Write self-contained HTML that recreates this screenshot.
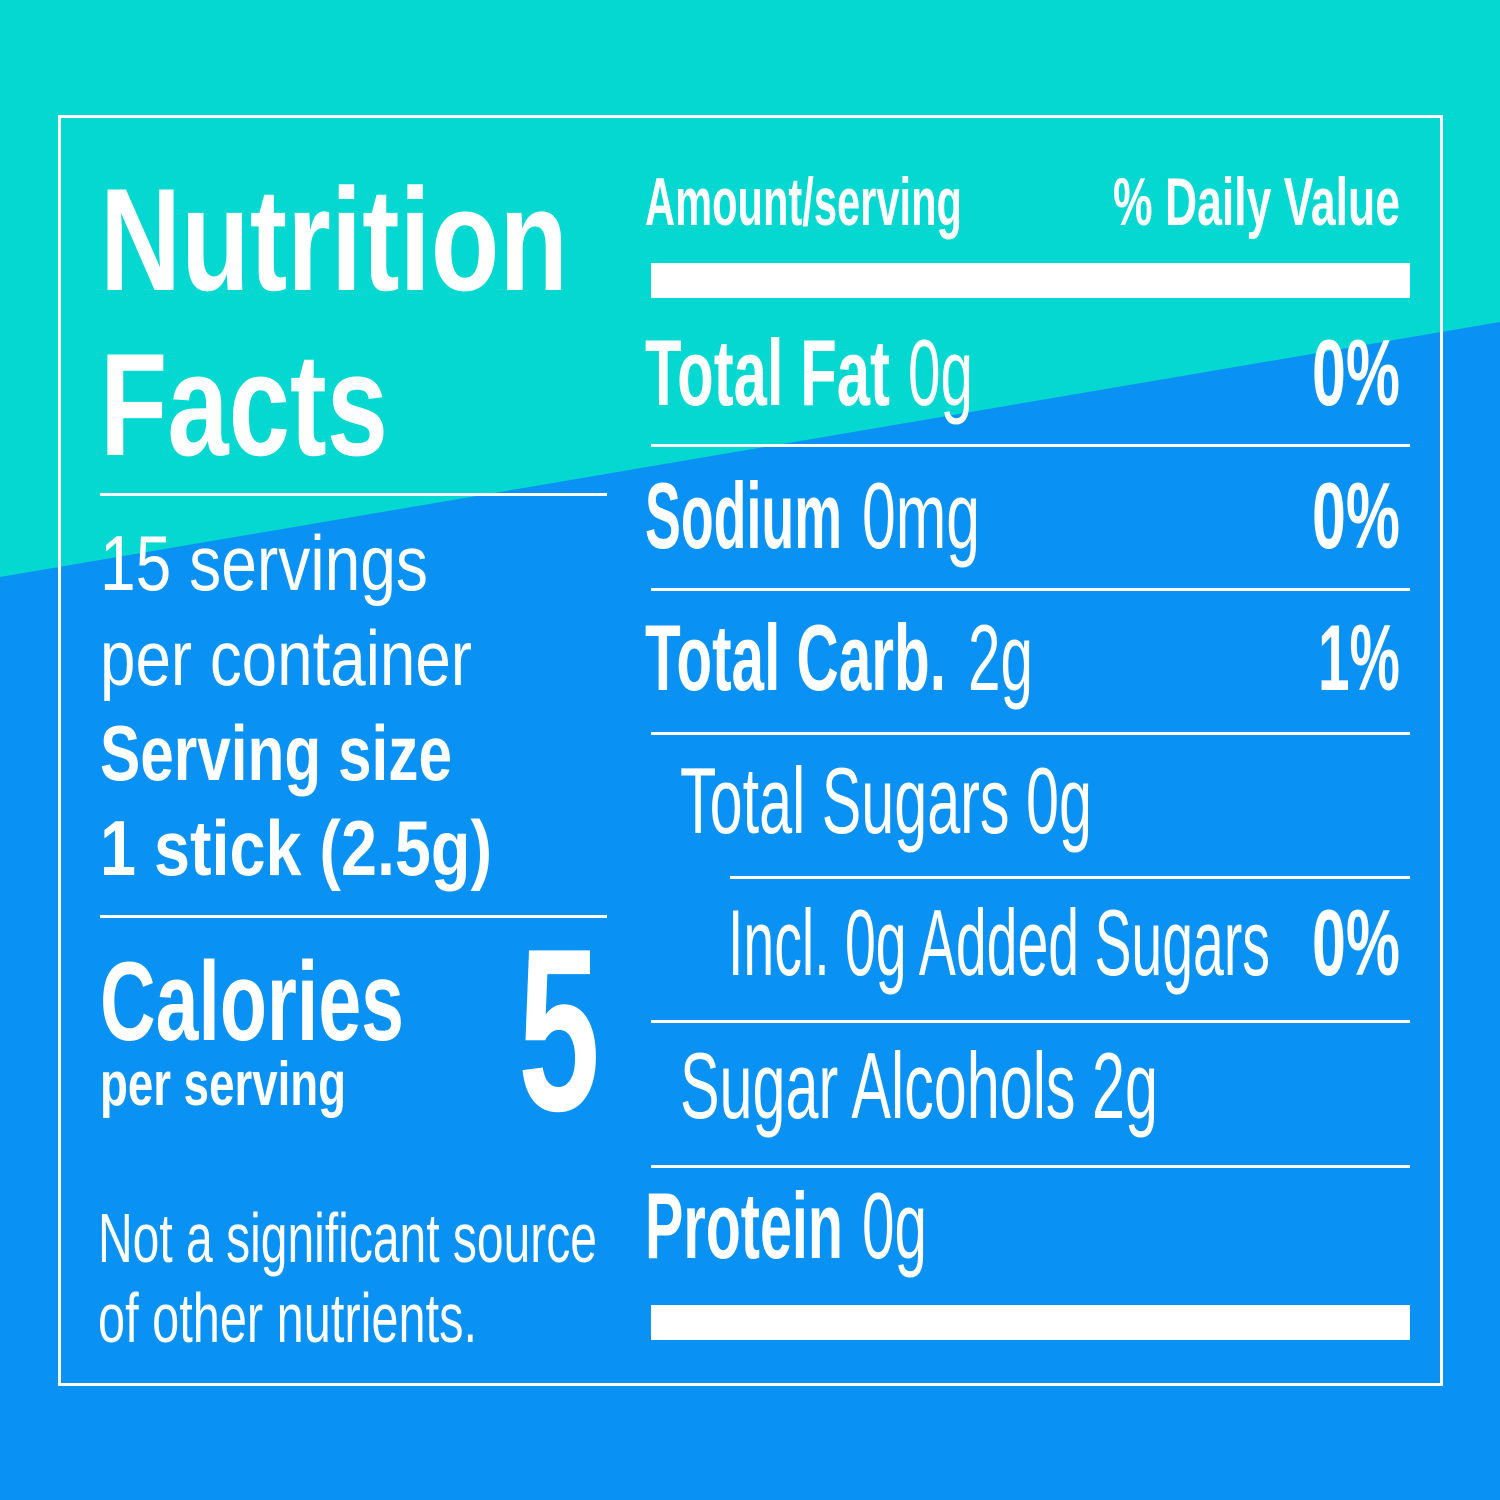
<!DOCTYPE html>
<html><head><meta charset="utf-8"><style>
html,body{margin:0;padding:0;width:1500px;height:1500px;overflow:hidden}
svg{display:block}
text{fill:#fff;font-family:"Liberation Sans",sans-serif}
.b{font-weight:bold}
</style></head><body>
<svg width="1500" height="1500" viewBox="0 0 1500 1500" xmlns="http://www.w3.org/2000/svg">
<rect width="1500" height="1500" fill="#0a91f4"/>
<polygon points="0,0 1500,0 1500,322 0,577" fill="#05d8d0"/>
<rect x="59.5" y="116.5" width="1382" height="1268" fill="none" stroke="#fff" stroke-width="3"/>
<g lengthAdjust="spacingAndGlyphs">
<text class="b" x="100" y="290" font-size="146" textLength="468" lengthAdjust="spacingAndGlyphs">Nutrition</text>
<text class="b" x="100" y="455" font-size="146" textLength="288" lengthAdjust="spacingAndGlyphs">Facts</text>
<rect x="100" y="493" width="507" height="3" fill="#fff"/>
<text x="100" y="590" font-size="78" textLength="328" lengthAdjust="spacingAndGlyphs">15 servings</text>
<text x="100" y="685" font-size="78" textLength="372" lengthAdjust="spacingAndGlyphs">per container</text>
<text class="b" x="100" y="780" font-size="78" textLength="352" lengthAdjust="spacingAndGlyphs">Serving size</text>
<text class="b" x="100" y="875" font-size="78" textLength="392" lengthAdjust="spacingAndGlyphs">1 stick (2.5g)</text>
<rect x="100" y="915" width="507" height="3" fill="#fff"/>
<text class="b" x="100" y="1040" font-size="112" textLength="304" lengthAdjust="spacingAndGlyphs">Calories</text>
<text class="b" x="100" y="1105" font-size="62" textLength="246" lengthAdjust="spacingAndGlyphs">per serving</text>
<text class="b" x="518" y="1110" font-size="232" textLength="82" lengthAdjust="spacingAndGlyphs">5</text>
<text x="98" y="1262" font-size="70" textLength="499" lengthAdjust="spacingAndGlyphs">Not a significant source</text>
<text x="98" y="1342" font-size="70" textLength="379" lengthAdjust="spacingAndGlyphs">of other nutrients.</text>

<text class="b" x="645" y="225" font-size="68" textLength="317" lengthAdjust="spacingAndGlyphs">Amount/serving</text>
<text class="b" x="1113" y="225" font-size="68" textLength="287" lengthAdjust="spacingAndGlyphs">% Daily Value</text>
<rect x="651" y="263" width="759" height="35" fill="#fff"/>

<text class="b" x="645" y="405" font-size="94" textLength="245" lengthAdjust="spacingAndGlyphs">Total Fat</text>
<text x="908" y="405" font-size="94" textLength="65" lengthAdjust="spacingAndGlyphs">0g</text>
<text class="b" x="1312" y="405" font-size="94" textLength="88" lengthAdjust="spacingAndGlyphs">0%</text>
<rect x="651" y="444" width="759" height="3" fill="#fff"/>

<text class="b" x="645" y="548" font-size="94" textLength="197" lengthAdjust="spacingAndGlyphs">Sodium</text>
<text x="862" y="548" font-size="94" textLength="118" lengthAdjust="spacingAndGlyphs">0mg</text>
<text class="b" x="1312" y="548" font-size="94" textLength="88" lengthAdjust="spacingAndGlyphs">0%</text>
<rect x="651" y="588" width="759" height="3" fill="#fff"/>

<text class="b" x="645" y="690" font-size="94" textLength="301" lengthAdjust="spacingAndGlyphs">Total Carb.</text>
<text x="968" y="690" font-size="94" textLength="65" lengthAdjust="spacingAndGlyphs">2g</text>
<text class="b" x="1318" y="690" font-size="94" textLength="82" lengthAdjust="spacingAndGlyphs">1%</text>
<rect x="651" y="732" width="759" height="3" fill="#fff"/>

<text x="680" y="833" font-size="94" textLength="412" lengthAdjust="spacingAndGlyphs">Total Sugars 0g</text>
<rect x="730" y="876" width="680" height="3" fill="#fff"/>

<text x="728" y="975" font-size="94" textLength="542" lengthAdjust="spacingAndGlyphs">Incl. 0g Added Sugars</text>
<text class="b" x="1312" y="975" font-size="94" textLength="88" lengthAdjust="spacingAndGlyphs">0%</text>
<rect x="651" y="1020" width="759" height="3" fill="#fff"/>

<text x="680" y="1118" font-size="94" textLength="478" lengthAdjust="spacingAndGlyphs">Sugar Alcohols 2g</text>
<rect x="651" y="1165" width="759" height="3" fill="#fff"/>

<text class="b" x="645" y="1258" font-size="94" textLength="198" lengthAdjust="spacingAndGlyphs">Protein</text>
<text x="862" y="1258" font-size="94" textLength="65" lengthAdjust="spacingAndGlyphs">0g</text>
<rect x="651" y="1305" width="759" height="35" fill="#fff"/>
</g>
</svg>
</body></html>
